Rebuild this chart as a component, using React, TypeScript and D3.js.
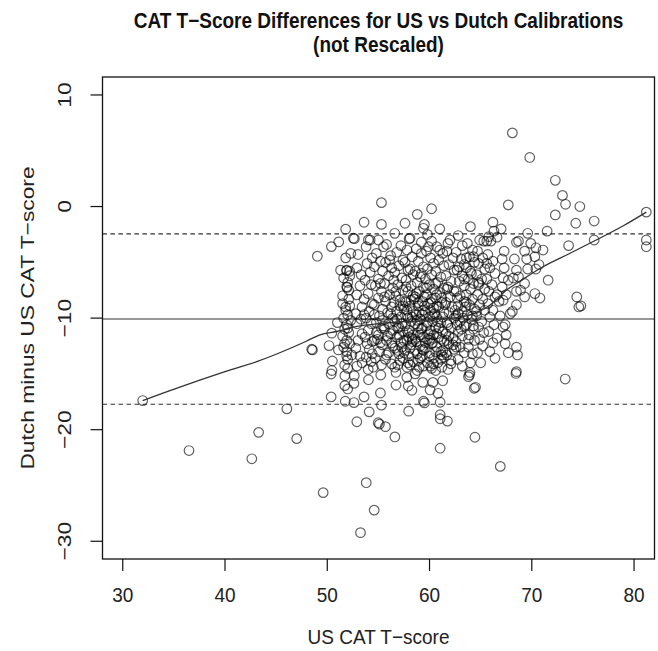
import React from "react";
import * as d3 from "d3";

// ---- data (US CAT T-score, Dutch minus US difference) ----
const lowerScatter: [number, number][] = [
  [31.95,-17.39],[46.05,-18.13],[43.29,-20.24],[47.01,-20.8],[36.48,-21.87],[42.62,-22.61],[49.6,-25.64],[53.81,-24.75],
  [54.59,-27.21],[53.25,-29.23],[61.04,-21.66],[64.44,-20.68],[66.92,-23.29],[73.27,-15.46],[68.45,-14.96],[56.61,-20.65],
  [55.69,-19.73],[54.98,-19.38],[55.1,-19.5],[52.89,-19.29],[54.1,-18.4],[57.96,-18.34],[61.75,-19.23],[61.04,-18.66],
  [61.04,-19.02],[64.37,-16.29],[59.41,-17.45],[59.5,-17.6],[61.04,-17.54],[50.38,-17.06],[51.76,-17.45],[52.61,-17.57],
  [53.6,-17.06],[55.3,-17.8],[55.2,-16.71],[56.72,-16.0],[57.92,-16.08],[58.28,-16.47],[60.05,-16.44],[60.83,-16.74],
  [60.33,-15.76],[59.34,-15.76],[51.72,-16.05],[52.0,-16.35],[52.61,-15.85],[54.03,-15.52],[55.23,-15.1],[52.64,-15.16],
  [51.72,-15.16],[50.38,-15.01],[63.81,-15.25],[63.9,-15.1],[61.29,-15.61],[63.95,-14.87],[57.78,-15.31],[56.72,-14.87],
  [50.45,-14.7],[64.5,-16.2]
];

const upperLeft: [number, number][] = [
  [49.03,-4.45],[50.4,-3.59],[51.12,-3.17],[51.8,-2.03],[52.65,-2.88],[53.6,-1.41],[52.55,-2.84],[54.02,-2.99]
];

const column52: [number, number][] = [
  [51.3,-5.7],[51.9,-5.7],[51.9,-5.75],[52.2,-5.8],[51.6,-6.4],[52.0,-6.8],[51.9,-7.2],[51.95,-7.25],[52.1,-7.5],[51.5,-8.0],
  [51.5,-8.7],[52.2,-8.9],[51.8,-9.3],[52.0,-9.7],[51.6,-10.0],[52.3,-10.2],[51.9,-10.6],[50.99,-10.4],[51.7,-11.0],
  [52.1,-11.3],[51.5,-11.6],[50.44,-11.35],[51.9,-12.0],[52.2,-12.3],[51.6,-12.6],[50.17,-12.46],[51.09,-12.85],[51.9,-13.0],
  [52.4,-13.3],[52.0,-13.7],[51.7,-14.2],[50.5,-13.84],[52.0,-14.5],[48.48,-12.79],[48.55,-12.85],[52.88,-7.92],[51.8,-4.6],
  [52.3,-4.2],[51.8,-9.0],[52.0,-10.9],[51.7,-12.3],[52.1,-8.3],[51.9,-13.4],[52.2,-6.2]
];

const coreWest: [number, number][] = [
  [53.0,-4.3],[52.9,-5.5],[53.3,-6.1],[53.2,-7.1],[53.4,-9.0],[52.8,-9.6],[52.9,-10.5],[53.3,-10.1],[53.0,-12.0],[53.4,-11.4],
  [52.8,-12.7],[53.2,-13.4],[52.9,-14.3],[53.4,-14.0],[53.6,-9.7],[53.9,-12.3],
  [54.2,-3.0],[53.8,-3.6],[54.4,-4.6],[53.9,-5.1],[54.2,-5.9],[53.7,-6.6],[54.3,-7.0],[54.0,-7.8],[53.6,-8.3],[54.4,-8.7],
  [54.1,-9.4],[53.8,-10.0],[54.3,-10.5],[54.0,-11.1],[53.7,-11.7],[54.4,-12.1],[54.1,-12.8],[53.8,-13.5],[54.3,-13.9],
  [54.0,-14.6],[54.5,-14.4],[54.4,-13.2],[54.6,-9.7],
  [55.3,0.35],[55.3,-1.6],[55.0,-3.0],[55.5,-3.6],[54.8,-4.2],[55.2,-4.9],[54.6,-5.4],[55.4,-5.8],[55.0,-6.5],[54.7,-7.1],
  [55.3,-7.6],[55.0,-8.2],[54.6,-8.8],[55.4,-9.2],[55.1,-9.8],[54.8,-10.4],[55.3,-10.9],[55.0,-11.5],[54.6,-12.0],[55.4,-12.4],
  [55.1,-13.0],[54.7,-13.6],[55.3,-14.2],[55.4,-10.2],[54.9,-11.9],[55.2,-6.9],
  [55.8,-3.4],[56.2,-4.4],[55.7,-5.0],[56.3,-5.5],[56.0,-6.2],[55.6,-6.9],[56.4,-7.3],[56.1,-7.9],[55.7,-8.5],[56.3,-9.0],
  [55.9,-9.5],[56.4,-10.0],[56.0,-10.5],[55.6,-11.0],[56.2,-11.4],[55.8,-12.0],[56.4,-12.5],[56.0,-13.1],[55.7,-13.7],
  [56.3,-14.1],[55.9,-11.6],[55.6,-8.1],[56.1,-4.8],[56.5,-6.6],
  [56.6,-2.4],[57.2,-3.5],[56.8,-4.1],[57.4,-4.8],[57.0,-5.3],[56.6,-5.9],[57.3,-6.4],[56.9,-7.0],[57.4,-7.5],[56.7,-8.0],
  [57.1,-8.4],[57.4,-8.9],[56.8,-9.4],[57.2,-9.9],[56.6,-10.3],[57.0,-10.8],[57.4,-11.2],[56.8,-11.7],[57.2,-12.2],[56.6,-12.7],
  [57.0,-13.2],[57.4,-13.6],[56.9,-14.2],[56.5,-8.6],[56.9,-10.9],[56.3,-12.2],[56.7,-7.6],[57.1,-13.8],[56.6,-14.4],[57.5,-9.2],
  [57.3,-12.6]
];

const coreCenter: [number, number][] = [
  [57.6,-1.5],[58.0,-2.9],[58.1,-2.84],[57.8,-3.9],[58.3,-4.5],[57.6,-5.0],[58.1,-5.6],[58.4,-6.1],[57.7,-6.6],[58.2,-7.1],
  [57.9,-7.6],[58.4,-8.0],[57.6,-8.5],[58.1,-8.9],[58.4,-9.4],[57.8,-9.8],[58.2,-10.3],[57.6,-10.7],[58.0,-11.1],[58.4,-11.5],
  [57.8,-12.0],[58.2,-12.4],[57.6,-12.9],[58.0,-13.4],[58.4,-13.9],[57.8,-14.4],[57.9,-10.0],[58.3,-11.8],[58.5,-8.3],
  [57.9,-11.3],[58.3,-12.1],[57.7,-7.2],[58.1,-14.2],[57.9,-5.7],
  [58.8,-0.7],[59.5,-1.6],[59.4,-1.95],[59.2,-3.2],[58.7,-3.8],[59.2,-4.2],[58.9,-4.9],[59.4,-5.4],[58.6,-5.8],[59.1,-6.3],
  [58.8,-6.8],[59.4,-7.2],[59.0,-7.6],[58.6,-8.1],[59.3,-8.5],[58.9,-8.9],[59.4,-9.3],[58.7,-9.7],[59.1,-10.1],[58.6,-10.5],
  [59.3,-10.9],[58.9,-11.3],[59.4,-11.7],[58.7,-12.1],[59.1,-12.5],[58.6,-12.9],[59.3,-13.4],[58.9,-13.8],[59.4,-14.3],
  [58.8,-14.7],[59.0,-9.5],[59.2,-11.0],[59.5,-8.9],[58.9,-10.7],[59.3,-12.8],[58.7,-7.8],[59.1,-13.6],[58.6,-15.0],[59.2,-6.0],
  [60.2,-0.2],[59.8,-2.5],[60.2,-3.1],[59.9,-3.6],[59.7,-4.0],[60.1,-4.6],[60.4,-5.1],[59.8,-5.6],[60.2,-6.1],[59.6,-6.5],
  [60.0,-7.0],[60.4,-7.4],[59.7,-7.9],[60.2,-8.3],[59.9,-8.7],[60.4,-9.1],[59.6,-9.5],[60.0,-9.9],[60.3,-10.3],[59.7,-10.7],
  [60.1,-11.1],[60.4,-11.5],[59.8,-11.9],[60.2,-12.3],[59.6,-12.7],[60.0,-13.1],[60.4,-13.6],[59.8,-14.0],[60.2,-14.5],
  [60.0,-12.0],[60.1,-9.3],[60.5,-9.6],[59.9,-11.4],[60.3,-12.2],[59.7,-7.3],[60.1,-14.3],[60.6,-14.7],[60.6,-6.9],
  [61.0,-2.0],[61.0,-3.9],[60.7,-3.6],[61.3,-4.2],[60.9,-4.8],[61.4,-5.3],[60.6,-5.8],[61.1,-6.3],[60.8,-6.8],[61.4,-7.3],
  [61.0,-7.7],[60.6,-8.2],[61.2,-8.6],[60.9,-9.0],[61.4,-9.5],[60.7,-9.9],[61.1,-10.4],[60.6,-10.8],[61.3,-11.2],[60.9,-11.7],
  [61.4,-12.1],[60.7,-12.6],[61.1,-13.0],[61.4,-13.5],[60.8,-14.0],[61.2,-14.4],[61.5,-8.8],[60.9,-10.9],[61.3,-12.9],
  [60.7,-7.9],[61.1,-13.7],
  [61.8,-3.3],[62.0,-3.0],[61.7,-4.0],[62.3,-4.6],[61.9,-5.2],[62.4,-5.7],[61.6,-6.2],[62.1,-6.7],[61.8,-7.2],[62.4,-7.6],
  [62.0,-8.1],[61.6,-8.6],[62.2,-9.0],[61.9,-9.5],[62.4,-10.0],[61.7,-10.4],[62.1,-10.9],[61.6,-11.4],[62.3,-11.8],[61.9,-12.3],
  [62.4,-12.8],[61.7,-13.3],[62.1,-13.8],[61.8,-14.6],[62.5,-9.3],[61.9,-11.6],[62.3,-12.4],[61.7,-7.4],[62.1,-14.1]
];

// the darkest part of the cloud, where circles pile up
const coreDense: [number, number][] = [
  [56.2,-9.6],[56.8,-10.1],[57.3,-10.5],[57.8,-9.3],[58.3,-9.9],[58.8,-10.2],[59.3,-9.7],[59.8,-10.4],[60.3,-9.8],[60.8,-10.3],
  [61.3,-9.9],[61.8,-10.6],[56.4,-11.1],[57.0,-11.5],[57.5,-12.0],[58.0,-11.7],[58.6,-11.9],[59.1,-11.5],[59.6,-12.2],
  [60.1,-11.8],[60.7,-11.4],[61.2,-11.9],[61.7,-12.0],[56.9,-12.9],[57.5,-13.1],[58.1,-12.7],[58.8,-13.2],[59.4,-12.9],
  [60.0,-13.4],[60.6,-13.0],[61.2,-13.3],[57.1,-8.9],[57.7,-8.6],[58.2,-8.4],[58.9,-8.6],[59.5,-8.1],[60.1,-8.6],[60.7,-8.9],
  [61.2,-8.2],[55.5,-10.7],[55.2,-12.2],[54.8,-11.3],[62.8,-9.6],[63.1,-11.0],[62.6,-12.6],[63.5,-9.0],[64.2,-9.8],
  [57.9,-14.0],[59.0,-14.4],[60.4,-14.1],[55.8,-13.3],[61.6,-13.1]
];

const coreEast: [number, number][] = [
  [62.8,-2.6],[63.2,-3.5],[62.6,-4.1],[63.1,-4.7],[63.4,-5.2],[62.7,-5.7],[63.2,-6.2],[62.9,-6.7],[63.4,-7.1],[62.6,-7.6],
  [63.0,-8.0],[63.4,-8.5],[62.8,-8.9],[63.2,-9.4],[62.6,-9.8],[63.0,-10.3],[63.4,-10.7],[62.8,-11.2],[63.2,-11.6],[62.6,-12.1],
  [63.0,-12.6],[63.4,-13.1],[62.8,-13.7],[63.2,-14.3],[62.7,-10.6],[62.7,-8.2],[63.4,-6.5],[62.9,-5.4],[63.3,-10.0],
  [64.0,-1.8],[63.7,-3.3],[64.2,-3.9],[63.6,-4.6],[64.3,-4.5],[63.9,-4.5],[64.4,-5.0],[63.6,-5.5],[64.1,-6.0],[63.8,-6.5],
  [64.3,-6.9],[64.0,-7.4],[63.6,-7.9],[64.2,-8.3],[63.9,-8.8],[64.4,-9.2],[63.7,-9.7],[64.1,-10.1],[63.6,-10.6],[64.3,-11.0],
  [63.9,-11.5],[64.4,-12.0],[63.8,-12.6],[64.2,-13.2],[64.0,-14.0],[63.6,-8.6],[64.3,-10.7],[63.8,-11.9],[64.0,-5.8],
  [64.9,-3.0],[65.3,-3.1],[65.6,-3.1],[64.7,-4.0],[65.2,-4.6],[64.8,-5.1],[65.6,-5.1],[65.4,-5.6],[64.6,-6.1],[65.1,-6.5],
  [64.8,-7.0],[65.4,-7.4],[64.7,-7.9],[65.2,-8.3],[64.9,-8.8],[65.4,-9.3],[64.6,-9.8],[65.1,-10.3],[64.8,-10.8],[65.3,-11.3],
  [64.9,-11.9],[65.2,-12.5],[64.7,-13.1],[65.0,-14.0],[64.6,-9.4],[64.8,-6.8],
  [66.2,-1.4],[65.8,-2.7],[66.0,-3.1],[66.3,-2.2],[65.7,-4.3],[66.2,-4.9],[65.9,-5.5],[66.4,-6.0],[65.6,-6.5],[66.1,-7.0],
  [65.8,-7.6],[66.4,-8.1],[65.7,-8.7],[66.2,-9.3],[65.9,-9.9],[66.3,-10.6],[65.8,-11.2],[66.6,-11.8],[66.2,-12.2],[65.9,-13.0],
  [66.4,-13.6]
];

const rightArm: [number, number][] = [
  [67.7,0.15],[67.0,-2.0],[66.6,-2.75],[68.7,-3.1],[68.5,-3.2],[69.9,-3.3],[70.4,-3.7],[71.1,-3.9],[69.3,-4.0],[67.3,-4.0],
  [68.3,-4.7],[69.5,-4.7],[67.1,-4.7],[70.3,-4.5],[70.7,-5.2],[70.4,-5.6],[69.6,-5.6],[68.5,-5.7],[67.3,-5.5],[68.2,-6.4],
  [68.7,-6.3],[67.2,-6.4],[67.7,-6.6],[69.3,-6.9],[67.1,-7.2],[68.9,-7.5],[68.5,-7.6],[67.5,-7.9],[66.6,-7.9],[70.3,-7.8],
  [69.3,-8.1],[70.8,-8.2],[67.2,-8.4],[66.8,-8.5],[68.5,-8.8],[68.1,-9.4],[67.9,-9.6],[67.4,-10.6],[67.2,-10.8],[66.9,-9.8],
  [67.5,-11.5],[68.5,-12.6],[68.6,-13.3],[67.7,-13.1],[68.5,-14.8],[67.4,-12.3],[69.6,-2.4],[71.5,-2.2],[72.3,-0.75],[73.0,1.0],
  [73.3,0.2],[74.7,0.0],[74.3,-1.5],[76.1,-1.3],[76.1,-3.0],[73.6,-3.5],[71.6,-6.6],[74.4,-8.1],[74.6,-9.0],[74.8,-8.9],
  [68.1,6.6],[69.8,4.4],[72.3,2.35],[81.2,-0.5],[81.2,-3.0],[81.2,-3.6]
];

// loess smooth
const smoothX = [31.95, 34, 36, 37.6, 40, 43.1, 46.4, 48, 49.3, 50.9, 52.9, 55, 57, 59, 61, 63, 64, 65.5, 66.5, 67.5, 68.5, 71.1, 73.5, 76.3, 79, 81.2];
const smoothY = [-17.39, -16.7, -16.05, -15.54, -14.8, -13.9, -12.7, -12.05, -11.5, -11.2, -10.75, -10.5, -10.35, -10.25, -10.1, -9.9, -9.7, -9.1, -8.4, -7.5, -6.9, -5.4, -4.3, -3.0, -1.7, -0.5];

const meanDiff = -10.08;
const limits = [-2.45, -17.72];

const xTicks = [30, 40, 50, 60, 70, 80];
const yTicks = [10, 0, -10, -20, -30];

const titleLines = ["CAT T\u2212Score Differences for US vs Dutch Calibrations", "(not Rescaled)"];
const xLabel = "US CAT T\u2212score";
const yLabel = "Dutch minus US CAT T\u2212score";

export default function App() {
  const W = 658, H = 651;
  const left = 102.5, right = 654.5, top = 77, bottom = 559;
  const x = d3.scaleLinear().domain([28.02, 82.0]).range([left, right]);
  const y = d3.scaleLinear().domain([-31.59, 11.61]).range([bottom, top]);
  const pts = [...lowerScatter, ...upperLeft, ...column52, ...coreWest, ...coreCenter, ...coreDense, ...coreEast, ...rightArm];
  const line = d3.line<number>().x((d) => x(d)).y((_, i) => y(smoothY[i])).curve(d3.curveMonotoneX);
  const font = "'Liberation Sans', Arial, Helvetica, sans-serif";
  const cx = (left + right) / 2;
  const vs = 1.2; // vertical stretch of the original picture
  return (
    <svg width={W} height={H} style={{ position: "absolute", left: 0, top: 0, background: "#fff" }} fontFamily={font}>
      <rect x={0} y={0} width={W} height={H} fill="#fff" />
      {titleLines.map((t, i) => (
        <text key={i} transform={`translate(${cx},${28 + i * 24}) scale(1,1.12)`} textAnchor="middle" fontWeight="bold" fontSize={19} fill="#111">{t}</text>
      ))}
      <clipPath id="plotclip"><rect x={left} y={top} width={right - left} height={bottom - top} /></clipPath>
      <g clipPath="url(#plotclip)">
        <line x1={left} x2={right} y1={y(meanDiff)} y2={y(meanDiff)} stroke="#333" strokeWidth={1.2} />
        {limits.map((v, i) => (
          <line key={i} x1={left} x2={right} y1={y(v)} y2={y(v)} stroke="#333" strokeWidth={1.2} strokeDasharray="4.5,3.5" />
        ))}
        {pts.map((p, i) => (
          <circle key={i} cx={x(p[0])} cy={y(p[1])} r={4.8} fill="none" stroke="#000" strokeOpacity={0.62} strokeWidth={1.2} />
        ))}
        <path d={line(smoothX) || ""} fill="none" stroke="#333" strokeWidth={1.3} />
      </g>
      <rect x={left} y={top} width={right - left} height={bottom - top} fill="none" stroke="#111" strokeWidth={1.3} />
      {xTicks.map((t) => (
        <g key={t}>
          <line x1={x(t)} x2={x(t)} y1={bottom} y2={bottom + 12} stroke="#111" strokeWidth={1.2} />
          <text transform={`translate(${x(t)},602) scale(1,1.08)`} textAnchor="middle" fontSize={19} fill="#222">{t}</text>
        </g>
      ))}
      {yTicks.map((t) => (
        <g key={t}>
          <line x1={left - 12} x2={left} y1={y(t)} y2={y(t)} stroke="#111" strokeWidth={1.2} />
          <text transform={`translate(${71},${y(t)}) rotate(-90) scale(${vs},1)`} textAnchor="middle" fontSize={19} fill="#222">{t === 0 ? "0" : (t < 0 ? "\u2212" + Math.abs(t) : String(t))}</text>
        </g>
      ))}
      <text transform={`translate(${cx},644) scale(1,1.08)`} textAnchor="middle" fontSize={19} fill="#222">{xLabel}</text>
      <text transform={`translate(${34},${(top + bottom) / 2}) rotate(-90) scale(${vs},1)`} textAnchor="middle" fontSize={19} fill="#222">{yLabel}</text>
    </svg>
  );
}
